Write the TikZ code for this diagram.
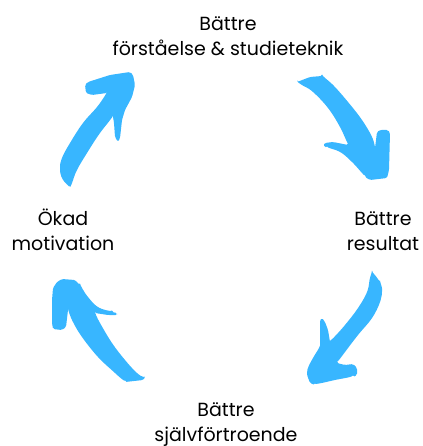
\documentclass[tikz,border=0pt]{standalone}
\usepackage{fontspec}
\setmainfont{Poppins}
\definecolor{brushblue}{HTML}{38B6FF}

\begin{document}
\begin{tikzpicture}[x=1pt,y=-1pt,
    cycletext/.style={align=center, inner sep=0pt,
                      font=\fontsize{19}{25}\selectfont},
    brush/.style={fill=brushblue, rounded corners=1.5pt}]
\useasboundingbox (0,0) rectangle (422,446);

% the four steps of the cycle
\node[cycletext] (understand) at (228,36) {Bättre\\förståelse \& studieteknik};
\node[cycletext] (results) at (383,231) {Bättre\\resultat};
\node[cycletext] (confidence) at (226,425) {Bättre\\självförtroende};
\node[cycletext] (motivation) at (63,230) {Ökad\\motivation};

% top right: understand -> results
\fill[brush] (297,82) -- (310,77) -- (322,76)
    -- plot[smooth, tension=0.6] coordinates {(322,76) (333,85) (348,102) (362,120) (372,137) (375,148)}
    -- (377,132) -- (380,130) -- (388,130) -- (390,133) -- (389,170) -- (387,178)
    -- (370,180) -- (365,177)
    -- plot[smooth, tension=0.6] coordinates {(365,177) (353,163) (340,152) (327,148)}
    -- (323,145) -- (325,143) -- (333,142) -- (348,145)
    -- plot[smooth, tension=0.6] coordinates {(348,145) (340,127) (328,108) (313,92) (302,85) (297,82)}
    -- cycle;

% bottom right: results -> confidence
\fill[brush] (372,272) -- (375,275) -- (380,282)
    -- plot[smooth, tension=0.6] coordinates {(380,282) (382,290) (380,302) (372,318) (358,335) (345,352) (337,363)}
    -- (345,365) -- (353,364) -- (357,368) -- (357,375) -- (353,377)
    -- plot[smooth, tension=0.6] coordinates {(353,377) (335,380) (315,385)}
    -- (310,383) -- (307,375)
    -- plot[smooth, tension=0.6] coordinates {(307,375) (308,368) (313,358) (320,347)}
    -- (320,332) -- (320,320) -- (322,318) -- (325,322) -- (328,330) -- (330,342)
    -- plot[smooth, tension=0.6] coordinates {(330,342) (345,325) (358,308) (367,292) (370,278) (372,272)}
    -- cycle;

% bottom left: confidence -> motivation
\fill[brush] (57,282) -- (62,279) -- (75,280) -- (80,285)
    -- plot[smooth, tension=0.6] coordinates {(80,285) (88,297) (98,307) (112,312)}
    -- (117,313) -- (117,315) -- (108,315) -- (95,313)
    -- plot[smooth, tension=0.6] coordinates {(95,313) (100,323) (112,343) (125,360) (137,373) (145,378)}
    -- (143,380) -- (125,382)
    -- plot[smooth, tension=0.6] coordinates {(125,382) (115,373) (98,357) (82,337) (73,322) (68,310)}
    -- (66,327) -- (62,330) -- (53,329) -- (52,323) -- (52,300) -- (53,288)
    -- cycle;

% top left: motivation -> understand
\fill[brush] (70,188)
    -- plot[smooth, tension=0.6] coordinates {(70,188) (62,178) (60,168) (62,158) (70,143) (83,123) (97,107) (107,93)}
    -- (92,95) -- (86,93) -- (85,85) -- (88,82) -- (110,75) -- (130,72) -- (133,75)
    -- (135,85) -- (132,97) -- (125,110) -- (122,120) -- (120,138) -- (118,142)
    -- (115,137) -- (114,123) -- (113,117)
    -- plot[smooth, tension=0.6] coordinates {(113,117) (100,133) (87,153) (77,170) (72,183) (70,188)}
    -- cycle;
\end{tikzpicture}
\end{document}
